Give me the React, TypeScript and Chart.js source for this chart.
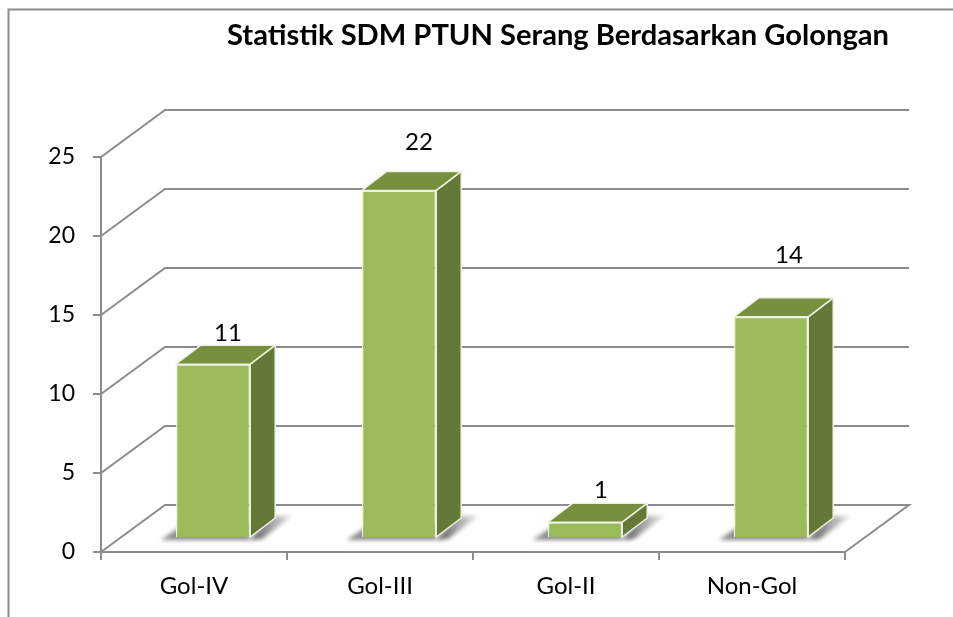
import React, { useEffect, useRef } from "react";
import { Chart, registerables } from "chart.js";

Chart.register(...registerables);

const categories = ["Gol-IV", "Gol-III", "Gol-II", "Non-Gol"];
const seriesValues = [11, 22, 1, 14];
const chartTitle = "Statistik SDM PTUN Serang Berdasarkan Golongan";
const yMax = 25;
const yStep = 5;

const FONT = "Lato, 'Open Sans', sans-serif";
const LINE = "#8c8c8c";
const TOP_FACE = "#76903f";
const SIDE_FACE = "#647837";
const FRONT_FACE = "#9bbb59";

// projection of the wall and of the bars
const WALL_DX = 64;
const WALL_DY = -47;
const BAR_SHIFT_X = 19;
const BAR_SHIFT_Y = -14;
const BAR_DX = 25;
const BAR_DY = -19;
const LABEL_NUDGE = [
  [15, -31],
  [20, -48],
  [16, -32],
  [18, -62],
];

const scene3d = {
  id: "scene3d",
  beforeDraw(chart: any) {
    const { ctx, width, height } = chart;
    ctx.save();
    ctx.fillStyle = "#fff";
    ctx.fillRect(0, 0, width, height);
    ctx.strokeStyle = LINE;
    ctx.lineWidth = 2;
    ctx.beginPath();
    ctx.moveTo(8.5, height);
    ctx.lineTo(8.5, 9.5);
    ctx.lineTo(width, 9.5);
    ctx.stroke();
    ctx.restore();
  },
  afterLayout(chart: any) {
    const t = chart.titleBlock;
    if (t) {
      t.left = 227;
      t.right = 889;
    }
  },
  beforeDatasetsDraw(chart: any) {
    const { ctx, chartArea, scales } = chart;
    const { left, right, bottom } = chartArea;
    ctx.save();
    ctx.strokeStyle = LINE;
    ctx.lineWidth = 2;
    ctx.lineJoin = "miter";
    for (const tick of scales.y.ticks) {
      const y = scales.y.getPixelForValue(tick.value);
      ctx.beginPath();
      ctx.moveTo(left, y);
      ctx.lineTo(left + WALL_DX, y + WALL_DY);
      ctx.lineTo(right + WALL_DX, y + WALL_DY);
      if (tick.value === 0) ctx.lineTo(right, bottom);
      ctx.stroke();
    }
    // soft floor shadows
    const meta = chart.getDatasetMeta(0);
    meta.data.forEach((bar: any) => {
      const x0 = bar.x + BAR_SHIFT_X - bar.width / 2;
      const x1 = bar.x + BAR_SHIFT_X + bar.width / 2;
      const b = bar.base + BAR_SHIFT_Y;
      ctx.save();
      ctx.filter = "blur(2px)";
      const g = ctx.createLinearGradient(x1, 0, x1 + 42, 0);
      g.addColorStop(0, "rgba(50,50,50,0.85)");
      g.addColorStop(1, "rgba(130,130,130,0.25)");
      ctx.fillStyle = "rgba(90,90,90,0.7)";
      ctx.beginPath();
      ctx.moveTo(x0 - 15, b + 3);
      ctx.lineTo(x0 + 10, b - 14);
      ctx.lineTo(x1, b - 14);
      ctx.lineTo(x1, b + 3);
      ctx.closePath();
      ctx.fill();
      ctx.fillStyle = g;
      ctx.beginPath();
      ctx.moveTo(x1, b + 3);
      ctx.lineTo(x1 + 12, b + 2);
      ctx.lineTo(x1 + 42, b - 21);
      ctx.lineTo(x1 + 20, b - 21);
      ctx.closePath();
      ctx.fill();
      ctx.restore();
    });
    ctx.restore();
    ctx.save();
    ctx.translate(BAR_SHIFT_X, BAR_SHIFT_Y);
  },
  afterDatasetsDraw(chart: any) {
    const { ctx } = chart;
    ctx.restore();
    const meta = chart.getDatasetMeta(0);
    ctx.save();
    ctx.lineWidth = 1.5;
    ctx.strokeStyle = "#eef2e4";
    ctx.lineJoin = "round";
    meta.data.forEach((bar: any, i: number) => {
      const x0 = bar.x + BAR_SHIFT_X - bar.width / 2;
      const x1 = bar.x + BAR_SHIFT_X + bar.width / 2;
      const top = bar.y + BAR_SHIFT_Y;
      const b = bar.base + BAR_SHIFT_Y;
      ctx.fillStyle = SIDE_FACE;
      ctx.beginPath();
      ctx.moveTo(x1, top);
      ctx.lineTo(x1 + BAR_DX, top + BAR_DY);
      ctx.lineTo(x1 + BAR_DX, b + BAR_DY);
      ctx.lineTo(x1, b);
      ctx.closePath();
      ctx.fill();
      ctx.stroke();
      ctx.fillStyle = TOP_FACE;
      ctx.beginPath();
      ctx.moveTo(x0, top);
      ctx.lineTo(x0 + BAR_DX, top + BAR_DY);
      ctx.lineTo(x1 + BAR_DX, top + BAR_DY);
      ctx.lineTo(x1, top);
      ctx.closePath();
      ctx.fill();
      ctx.stroke();

      ctx.fillStyle = "#000";
      ctx.font = `24px ${FONT}`;
      ctx.textAlign = "center";
      ctx.textBaseline = "middle";
      const [nx, ny] = LABEL_NUDGE[i];
      ctx.fillText(String(seriesValues[i]), bar.x + BAR_SHIFT_X + nx, top + ny);
    });
    ctx.restore();
  },
};

export default function App() {
  const ref = useRef<HTMLCanvasElement>(null);
  useEffect(() => {
    const chart = new Chart(ref.current as HTMLCanvasElement, {
      type: "bar",
      data: {
        labels: categories,
        datasets: [
          {
            label: "Jumlah",
            data: seriesValues,
            backgroundColor: FRONT_FACE,
            borderColor: "#eef2e4",
            borderWidth: 1.5,
            barPercentage: 0.4,
            categoryPercentage: 1,
          },
        ],
      },
      options: {
        responsive: false,
        animation: false,
        layout: { padding: { left: 0, right: 108, top: 0, bottom: 0 } },
        plugins: {
          legend: { display: false },
          tooltip: { enabled: false },
          title: {
            display: true,
            text: chartTitle,
            color: "#000",
            font: { family: FONT, size: 29.2, weight: "bold" },
            padding: { top: 18, bottom: 104 },
          },
        },
        scales: {
          x: {
            afterFit: (s: any) => {
              s.height = 65;
            },
            grid: {
              drawOnChartArea: false,
              drawTicks: true,
              tickLength: 8,
              color: LINE,
              lineWidth: 2,
            },
            border: { color: LINE, width: 2 },
            ticks: {
              color: "#000",
              font: { family: FONT, size: 24 },
              padding: 12,
              autoSkip: false,
              maxRotation: 0,
            },
          },
          y: {
            min: 0,
            max: yMax,
            afterFit: (s: any) => {
              s.width = 101;
            },
            grid: {
              drawOnChartArea: false,
              drawTicks: true,
              tickLength: 8,
              color: LINE,
              lineWidth: 2,
            },
            border: { color: LINE, width: 2 },
            ticks: {
              stepSize: yStep,
              color: "#000",
              font: { family: FONT, size: 23 },
              padding: 18,
            },
          },
        },
      },
      plugins: [scene3d],
    } as any);
    return () => chart.destroy();
  }, []);
  return (
    <div style={{ position: "absolute", left: 0, top: 0, width: 953, height: 617 }}>
      <canvas ref={ref} width={953} height={617} style={{ display: "block" }} />
    </div>
  );
}
